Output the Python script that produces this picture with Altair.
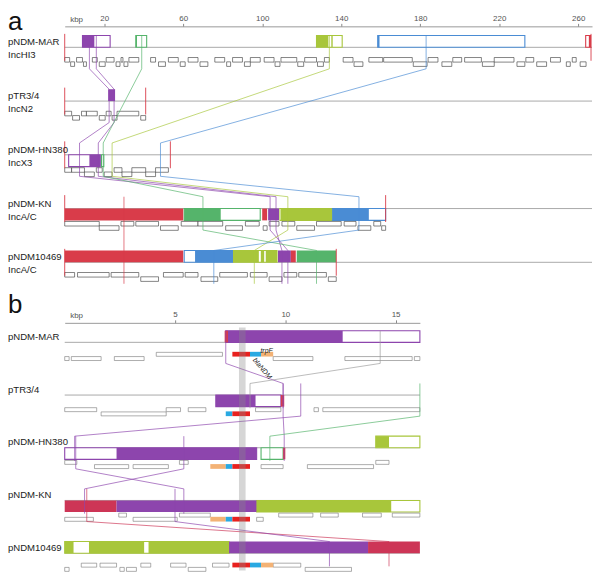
import altair as alt
import pandas as pd

# ---------------- shared ----------------
NAMES = ["pNDM-MAR", "pTR3/4", "pNDM-HN380", "pNDM-KN", "pNDM10469"]
INC_GROUPS = ["IncHI3", "IncN2", "IncX3", "IncA/C", "IncA/C"]

LCB_KEYS = ["purple", "red", "crimson", "lime", "green", "blue", "grey", "bla", "ble", "trp"]
LCB_HEX = ["#8d45ad", "#d93c4a", "#cd3556", "#a8c63b", "#55b46b", "#4a8cd4", "#9b9b9b",
           "#e8211f", "#29a9e2", "#f3b275"]

# ---------------- panel a (whole plasmids, kbp) ----------------
A_LENGTHS = [266.5, 41.0, 53.5, 162.5, 137.5]
A_XMAX = 267
A_TICKS = [20, 60, 100, 140, 180, 220, 260]
A_STRAND = [1, 1, -1, -1, 1]

# (track, start, end, lcb, kind)
A_BLOCKS = [
    (0, 9, 23, "purple", "box"), (0, 9, 15, "purple", "fill"),
    (0, 36, 41.5, "green", "box"), (0, 36, 36.6, "green", "fill"),
    (0, 127.5, 140.5, "lime", "box"), (0, 127.5, 133.5, "lime", "fill"),
    (0, 135.0, 135.7, "lime", "fill"),
    (0, 158.5, 233, "blue", "box"), (0, 158.5, 159.4, "blue", "fill"),
    (0, 263.8, 266.3, "red", "box"), (0, 265.4, 266.3, "red", "fill"),
    (1, 22, 25.5, "purple", "fill"),
    (2, 2, 18, "purple", "box"), (2, 12.5, 18, "purple", "fill"),
    (2, 18.6, 19.8, "green", "box"),
    (3, 0, 60, "red", "fill"), (3, 60.5, 99, "green", "box"), (3, 60.5, 79, "green", "fill"),
    (3, 100, 102.5, "red", "fill"), (3, 103, 108.5, "purple", "fill"),
    (3, 109, 135.5, "lime", "box"), (3, 109.5, 135.5, "lime", "fill"),
    (3, 135.5, 162.5, "blue", "box"), (3, 135.5, 154, "blue", "fill"),
    (4, 0, 60, "red", "fill"), (4, 60.5, 85, "blue", "box"), (4, 66, 85, "blue", "fill"),
    (4, 85.5, 107.5, "lime", "box"), (4, 85.5, 98.3, "lime", "fill"),
    (4, 99.3, 101, "lime", "fill"), (4, 101.8, 107.5, "lime", "fill"),
    (4, 108, 114.5, "purple", "fill"), (4, 114.5, 117, "red", "fill"),
    (4, 117.5, 137.5, "green", "fill"),
]

# genes (start, end, level)
A_GENES_MAR = [(0, 2.5, 0), (3, 5, 1), (6, 9, 0), (9.5, 11, 1), (14, 16.5, 0), (17.5, 20.5, 1),
               (21, 25, 0), (26, 28, 1), (28.5, 29.5, 0), (30, 32, 1), (32.5, 37.5, 0),
               (43.5, 46, 0), (47.5, 51, 1), (52.5, 57.5, 0), (58.5, 61, 1), (62.5, 67.5, 0),
               (68.5, 72.5, 1), (76, 81, 0), (82, 84, 1), (85, 90, 0), (91, 94, 1), (94, 99, 0),
               (101, 106, 0), (106.5, 109, 1), (109.5, 117.5, 0), (118, 121, 1), (121.5, 127.5, 0),
               (128, 131, 1), (131.5, 134, 0), (141, 146, 0), (146.5, 151, 1), (154, 161, 0),
               (161.5, 176, 0), (176.5, 183.5, 1), (184, 189, 0), (191, 196, 1), (196.5, 201, 0),
               (202.5, 211, 0), (211.5, 217.5, 1), (217.5, 227.5, 0), (229, 233, 1),
               (233.5, 237.5, 0), (239, 244, 1), (246, 251, 0), (254, 256, 1), (257, 259, 0),
               (261, 264, 1)]
A_GENES_PTR = [(0, 3.5, 0), (4, 7.5, 1), (8.5, 11, 0), (11, 16.5, 0), (17.5, 20.5, 1),
               (21, 23.5, 0), (24, 26.5, 1), (26.5, 37.5, 0), (38.5, 41, 1)]
A_GENES_HN = [(0, 3.5, 0), (3.5, 10, 0), (10, 15, 1), (16, 19, 0), (20, 24, 1), (25, 29, 0),
              (29, 34, 1), (34, 41, 0), (41, 46, 1), (46, 52.5, 0)]
A_GENES_KN = [(0, 17.5, 0), (17.5, 27.5, 1), (28.5, 35, 0), (36, 47.5, 0), (48.5, 57.5, 1),
              (59, 67.5, 0), (67.5, 80, 0), (81.5, 90, 1), (91.5, 98.5, 0), (100.5, 102.5, 1),
              (103.5, 108.5, 0), (110, 116.5, 0), (117.5, 126.5, 1), (127.5, 140, 0),
              (141.5, 147.5, 0), (148.5, 155, 1), (156.5, 160, 0), (160.5, 162.5, 1)]
A_GENES_10469 = [(0, 5, 0), (6.5, 22.5, 0), (23.5, 37.5, 0), (38.5, 47.5, 1), (50, 60, 0),
                 (61, 67.5, 0), (69, 77.5, 1), (78.5, 92.5, 0), (94, 102.5, 0), (103.5, 110, 1),
                 (111, 117.5, 0), (118.5, 132.5, 0), (133.5, 137.5, 1)]

# LCB connector chains: position (kbp) of each LCB in each plasmid
A_LINK_LCB = ["purple", "purple", "green", "lime", "blue", "red"]
A_LINK_X = [
    [12.5, 22.5, 7.5, 104, 113],
    [16, 25, 17, 107, 110],
    [39, None, 19.5, 70, 127.5],
    [134, None, 24, 113, 96],
    [183, None, 48.5, 149, 75.5],
    [None, None, None, 30, 30],
]

# ---------------- panel b (blaNDM region, kbp) ----------------
B_XMAX = 16.1
B_TICKS = [5, 10, 15]
B_STRAND = [1, -1, -1, -1, 1]

# (track, start, end, lcb, kind, side)
B_BLOCKS = [
    (0, 7.3, 16.1, "purple", "box", 1), (0, 7.3, 12.6, "purple", "fill", 1),
    (0, 7.25, 7.4, "red", "fill", 1),
    (1, 6.85, 9.8, "purple", "box", -1), (1, 6.85, 8.65, "purple", "fill", -1),
    (1, 9.8, 9.95, "red", "fill", -1),
    (2, 0, 8.7, "purple", "box", -1), (2, 2.35, 8.7, "purple", "fill", -1),
    (2, 8.9, 9.9, "green", "box", -1), (2, 9.9, 10.0, "red", "fill", -1),
    (2, 14.1, 16.1, "lime", "box", 1), (2, 14.1, 14.7, "lime", "fill", 1),
    (3, 0, 2.35, "crimson", "fill", -1), (3, 2.35, 8.7, "purple", "fill", -1),
    (3, 8.7, 16.1, "lime", "box", -1), (3, 8.7, 14.8, "lime", "fill", -1),
    (4, 0, 7.45, "lime", "box", 1), (4, 0, 0.4, "lime", "fill", 1),
    (4, 1.1, 3.6, "lime", "fill", 1), (4, 3.8, 7.45, "lime", "fill", 1),
    (4, 7.45, 13.75, "purple", "fill", 1), (4, 13.75, 16.1, "crimson", "fill", 1),
]

B_GENES_MAR = [(0, 0.2, 1), (0.3, 1.65, 1), (2.25, 3.6, 1), (4.15, 7.15, 0), (9.45, 11.25, 1),
               (12.7, 15.75, 1), (15.85, 16.1, 1)]
B_GENES_PTR = [(0, 1.45, 0), (1.65, 4.6, 1), (4.6, 5.25, 0), (5.6, 6.4, 0), (8.65, 9.8, 0),
               (11.3, 11.5, 0), (11.7, 16.1, 0)]
B_GENES_HN = [(0, 0.55, 0), (1.35, 2.9, 1), (3.1, 4.7, 1), (5.2, 5.6, 0), (8.9, 9.9, 1),
              (11.0, 14.0, 1), (14.1, 14.7, 0)]
B_GENES_KN = [(0, 1.3, 1), (2.45, 2.8, 0), (3.1, 5.1, 1), (5.2, 6.6, 0), (8.7, 9.0, 1),
              (9.7, 11.25, 0), (11.6, 12.4, 0), (13.5, 14.35, 0), (14.85, 16.1, 0)]
B_GENES_10469 = [(0, 0.2, 1), (0.75, 1.45, 0), (1.6, 2.35, 0), (2.5, 2.7, 1), (2.8, 3.25, 1),
                 (3.45, 3.9, 0), (4.8, 5.5, 0), (5.6, 6.4, 1), (6.7, 7.45, 0), (9.45, 10.7, 0),
                 (10.9, 13.0, 1)]

# resistance-region genes: (track, start, end, gene, level)
B_RES_GENES = [
    (0, 7.6, 8.4, "bla", 0), (0, 8.4, 8.9, "ble", 0), (0, 8.9, 9.45, "trp", 0),
    (1, 7.3, 7.6, "ble", 1), (1, 7.6, 8.4, "bla", 1),
    (2, 6.6, 7.3, "trp", 1), (2, 7.3, 7.6, "ble", 1), (2, 7.6, 8.4, "bla", 1),
    (3, 6.6, 7.3, "trp", 1), (3, 7.3, 7.6, "ble", 1), (3, 7.6, 8.4, "bla", 1),
    (4, 7.6, 8.4, "bla", 0), (4, 8.4, 8.9, "ble", 0), (4, 8.9, 9.45, "trp", 0),
]
B_BLA_REGION = (7.9, 8.2)

# connectors: (from track, x, to track, x, lcb)
B_LINKS = [
    (0, 7.3, 1, 9.9, "purple"), (0, 14.3, 1, 8.4, "grey"),
    (1, 9.9, 2, 9.95, "purple"), (1, 10.7, 2, 0.45, "purple"), (1, 16.1, 2, 9.3, "green"),
    (2, 0.5, 3, 5.4, "purple"), (2, 5.4, 3, 0.9, "purple"),
    (3, 1.0, 4, 14.7, "crimson"), (3, 5.0, 4, 12.0, "purple"),
]

# ---------------- helpers ----------------
BH = 0.22
GENE_BASE = {1: 0.19, -1: 0.24}
FONT = "Liberation Sans"
color_scale = alt.Scale(domain=LCB_KEYS, range=LCB_HEX)


def blocks_frame(blocks, strands):
    rows = []
    for b in blocks:
        t, s, e, lcb, kind = b[:5]
        side = b[5] if len(b) > 5 else strands[t]
        y0, y1 = (t - BH, t) if side > 0 else (t, t + BH)
        rows.append(dict(s=s, e=e, lcb=lcb, kind=kind, y0=y0, y1=y1))
    return pd.DataFrame(rows)


def genes_frame(gene_lists, strands, gh):
    rows = []
    for t, genes in enumerate(gene_lists):
        base = t + GENE_BASE[strands[t]]
        for s, e, lev in genes:
            y0 = base + lev * 0.08
            rows.append(dict(s=s, e=e, y0=y0, y1=y0 + gh))
    return pd.DataFrame(rows)


def make_x(field, xmax, ticks):
    return alt.X(field, type="quantitative",
                 scale=alt.Scale(domain=[0, xmax], nice=False, zero=False),
                 axis=alt.Axis(orient="top", values=ticks, title="kbp", titleX=5, titleY=-5,
                               titleAlign="left", titleBaseline="alphabetic", titleFontSize=8,
                               titleFontWeight="normal", titleColor="#555", titleFont=FONT,
                               labelFont=FONT, labelFontSize=8, labelColor="#555",
                               tickSize=3, tickColor="#888", domainColor="#999",
                               grid=False, labelPadding=1))


def make_y(field, ydom):
    return alt.Y(field, type="quantitative",
                 scale=alt.Scale(domain=ydom, reverse=True, nice=False, zero=False), axis=None)


def build_panel(letter, letter_y, xmax, ticks, ydom, width, height, blocks_df, genes_df,
                links_df, label_df, gene_stroke, extra_after=()):
    X = lambda f: make_x(f, xmax, ticks)
    Y = lambda f: make_y(f, ydom)
    backbone = pd.DataFrame({"t": list(range(len(NAMES))), "x0": 0.0, "x1": float(xmax)})
    layers = []
    layers.append(alt.Chart(backbone).mark_rule(color="#a0a0a0", strokeWidth=0.9).encode(
        x=X("x0"), x2="x1", y=Y("t")))
    boxes = blocks_df[blocks_df.kind == "box"]
    fills = blocks_df[blocks_df.kind == "fill"]
    layers.append(alt.Chart(boxes).mark_rect(fill="white", strokeWidth=1.1).encode(
        x=X("s"), x2="e", y=Y("y0"), y2="y1",
        stroke=alt.Stroke("lcb:N", scale=color_scale, legend=None)))
    layers.append(alt.Chart(fills).mark_rect().encode(
        x=X("s"), x2="e", y=Y("y0"), y2="y1",
        color=alt.Color("lcb:N", scale=color_scale, legend=None)))
    layers.append(alt.Chart(genes_df).mark_rect(fill="white", stroke=gene_stroke,
                                                strokeWidth=0.6).encode(
        x=X("s"), x2="e", y=Y("y0"), y2="y1"))
    layers.append(alt.Chart(links_df).mark_line(strokeWidth=0.8, opacity=0.85).encode(
        x=X("x"), y=Y("y"), detail="g:N", order="k:Q",
        color=alt.Color("lcb:N", scale=color_scale, legend=None)))
    layers.extend(extra_after)
    layers.append(alt.Chart(label_df).mark_text(align="left", baseline="middle", font=FONT,
                                                fontSize=9.6, color="#222").encode(
        x=alt.value(-57), y=Y("ly"), text="txt:N"))
    layers.append(alt.Chart(pd.DataFrame({"txt": [letter]})).mark_text(
        align="left", baseline="alphabetic", font=FONT, fontSize=26, color="#111").encode(
        x=alt.value(-57), y=alt.value(letter_y), text="txt:N"))
    return alt.layer(*layers).properties(width=width, height=height)


# ---------------- panel a ----------------
a_blocks = blocks_frame(A_BLOCKS, A_STRAND)
a_genes = genes_frame([A_GENES_MAR, A_GENES_PTR, A_GENES_HN, A_GENES_KN, A_GENES_10469],
                      A_STRAND, 0.085)
rows = []
for g, (lcb, xs) in enumerate(zip(A_LINK_LCB, A_LINK_X)):
    k = 0
    for t, x in enumerate(xs):
        if x is None:
            continue
        rows.append(dict(g=g, k=k, x=x, y=t - BH, lcb=lcb)); k += 1
        rows.append(dict(g=g, k=k, x=x, y=t + 0.4, lcb=lcb)); k += 1
a_links = pd.DataFrame(rows)

a_labels = pd.DataFrame(
    [dict(txt=n, ly=t - 0.09) for t, n in enumerate(NAMES)] +
    [dict(txt=i, ly=t + 0.15) for t, i in enumerate(INC_GROUPS)])

a_ends = pd.DataFrame([dict(x=v, y0=t - 0.25, y1=t + 0.25)
                       for t, L in enumerate(A_LENGTHS) for v in (0.0, L)])
Xa = lambda f: make_x(f, A_XMAX, A_TICKS)
YDOM_A = [-0.39, 4.46]
Ya = lambda f: make_y(f, YDOM_A)
a_end_layer = alt.Chart(a_ends).mark_rule(color="#d93c4a", strokeWidth=0.9).encode(
    x=Xa("x"), y=Ya("y0"), y2="y1")

panel_a = build_panel("a", 4, A_XMAX, A_TICKS, YDOM_A, 530, 262, a_blocks, a_genes, a_links,
                      a_labels, "#333", extra_after=[a_end_layer])

# ---------------- panel b ----------------
b_blocks = blocks_frame(B_BLOCKS, B_STRAND)
b_genes = genes_frame([B_GENES_MAR, B_GENES_PTR, B_GENES_HN, B_GENES_KN, B_GENES_10469],
                      B_STRAND, 0.075)
rows = []
for g, (tf, xf, tt, xt, lcb) in enumerate(B_LINKS):
    pts = [(xf, tf - BH), (xf, tf + 0.4), (xt, tt - BH), (xt, tt + 0.25)]
    for k, (x, y) in enumerate(pts):
        rows.append(dict(g=g, k=k, x=x, y=y, lcb=lcb))
b_links = pd.DataFrame(rows)
b_labels = pd.DataFrame([dict(txt=n, ly=t - 0.1) for t, n in enumerate(NAMES)])

YDOM_B = [-0.37, 4.33]
Xb = lambda f: make_x(f, B_XMAX, B_TICKS)
Yb = lambda f: make_y(f, YDOM_B)

res_rows = []
for t, s, e, gname, lev in B_RES_GENES:
    y0 = t + GENE_BASE[B_STRAND[t]] - 0.01 + lev * 0.08
    res_rows.append(dict(s=s, e=e, y0=y0, y1=y0 + 0.09, lcb=gname))
b_res = pd.DataFrame(res_rows)
b_res_layer = alt.Chart(b_res).mark_rect().encode(
    x=Xb("s"), x2="e", y=Yb("y0"), y2="y1",
    color=alt.Color("lcb:N", scale=color_scale, legend=None))

b_hi = pd.DataFrame({"s": [B_BLA_REGION[0]], "e": [B_BLA_REGION[1]], "y0": [-0.28], "y1": [4.33]})
b_hi_layer = alt.Chart(b_hi).mark_rect(color="#8a8a8a", opacity=0.35).encode(
    x=Xb("s"), x2="e", y=Yb("y0"), y2="y1")

b_notes_bla = alt.Chart(pd.DataFrame({"txt": ["blaNDM"], "x": [8.95], "y": [0.5]})).mark_text(
    font=FONT, fontSize=7, fontStyle="italic", angle=50, color="#222").encode(
    x=Xb("x"), y=Yb("y"), text="txt:N")
b_notes_trp = alt.Chart(pd.DataFrame({"txt": ["trpF"], "x": [9.15], "y": [0.17]})).mark_text(
    font=FONT, fontSize=7, fontStyle="italic", color="#222").encode(
    x=Xb("x"), y=Yb("y"), text="txt:N")

panel_b = build_panel("b", -10, B_XMAX, B_TICKS, YDOM_B, 357, 249, b_blocks, b_genes, b_links,
                      b_labels, "#777",
                      extra_after=[b_res_layer, b_hi_layer, b_notes_bla, b_notes_trp])

chart = alt.vconcat(panel_a, panel_b, spacing=5).properties(
    padding={"left": 0, "top": 0, "right": 0, "bottom": 0}
).configure_view(stroke=None)

chart.save("out.html", embed_options={"renderer": "svg", "actions": False})
